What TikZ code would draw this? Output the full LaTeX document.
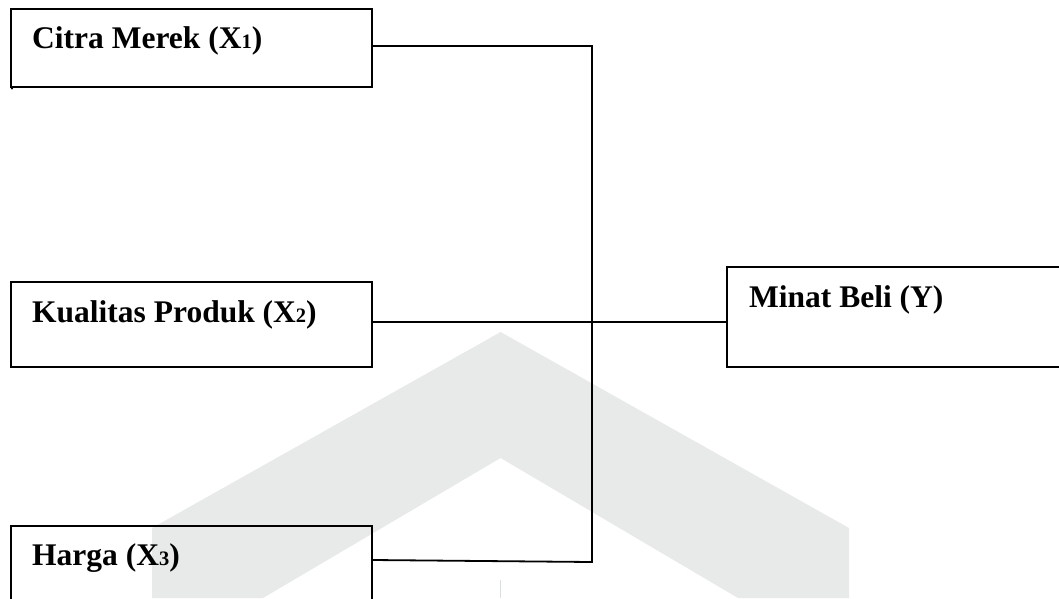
\documentclass[tikz,border=0pt]{standalone}
\usepackage{fontspec}
\setmainfont{Liberation Serif}
\definecolor{wmgrey}{RGB}{231,234,233}
\definecolor{wmedge}{RGB}{214,226,226}
\newcommand{\subidx}[1]{{\fontsize{20.5}{20}\selectfont #1}}
\begin{document}
\begin{tikzpicture}[x=1pt,y=-1pt,
  box/.style={draw=black, line width=2.2pt, rectangle, inner sep=0pt, anchor=north west},
  lbl/.style={anchor=base west, inner sep=0pt, font=\bfseries\fontsize{31.5}{36}\selectfont},
  link/.style={draw=black, line width=1.8pt, line join=miter},
]
\useasboundingbox (0,0) rectangle (1059,598);
\clip (0,0) rectangle (1059,598);

% background emblem
\fill[wmgrey] (152,598) -- (152,528) -- (500.6,332) -- (849,528) -- (849,598)
  -- (738,598) -- (500.6,458) -- (263,598) -- cycle;
\draw[wmedge, line width=1pt] (500.6,580) -- (500.6,598);

% variable boxes
\node[box, minimum width=361pt, minimum height=78pt] (b1) at (10,8) {};
\node[box, minimum width=361pt, minimum height=85pt] (b2) at (10,281) {};
\node[box, minimum width=361pt, minimum height=100pt] (b3) at (10,525) {};
\node[box, minimum width=400pt, minimum height=100pt] (b4) at (726,266) {};

\fill (12,88.5) circle (1.2pt);

% labels
\node[lbl] (t1) at (32,48) {Citra Merek (X\subidx{1})};
\node[lbl] (t2) at (32,322) {Kualitas Produk (X\subidx{2})};
\node[lbl] (t3) at (32,565) {Harga (X\subidx{3})};
\node[lbl] (t4) at (749,307) {Minat Beli (Y)};

% connectors
\coordinate (j1) at (592,46);
\coordinate (j3) at (592,562);
\draw[link] (b1.east |- j1) -- (j1) -- (j3) -- ([yshift=-35pt]b3.north east);
\draw[link] ([yshift=-41pt]b2.north east) -- ([yshift=-41pt]b2.north east -| b4.west);
\end{tikzpicture}
\end{document}
